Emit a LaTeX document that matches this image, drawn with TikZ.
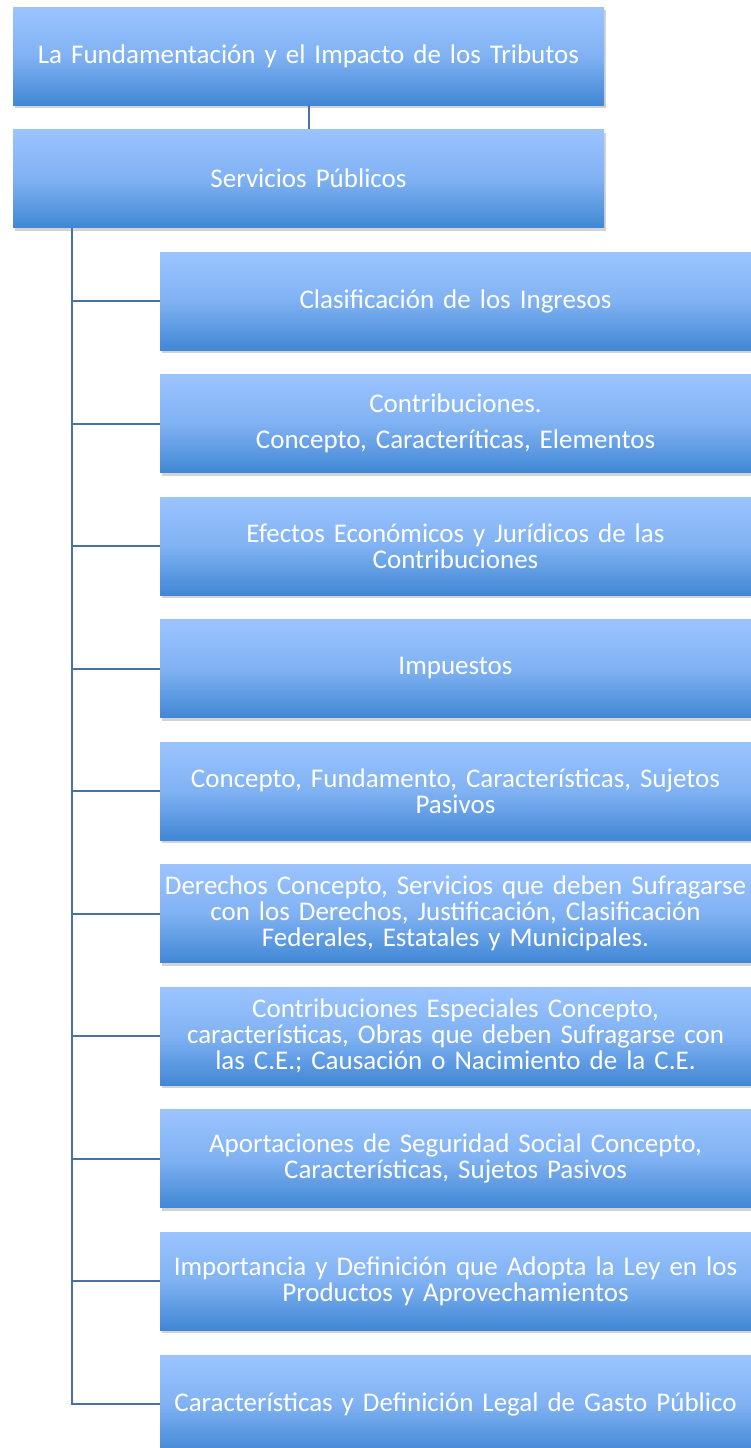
\documentclass[tikz,border=0pt]{standalone}
\usepackage{fontspec}
\setmainfont{Carlito}
\usetikzlibrary{shadows}
\definecolor{boxtop}{HTML}{9BC4FF}
\definecolor{boxbot}{HTML}{4187D5}
\definecolor{linkc}{HTML}{4A70A8}
\tikzset{
  topic/.style={rectangle, minimum width=591pt, minimum height=98pt, inner sep=0pt,
    top color=boxtop, bottom color=boxbot, middle color=boxtop!70!boxbot,
    text=white, font=\fontsize{27}{26}\selectfont, align=center, text width=591pt,
    drop shadow={opacity=0.35, shadow xshift=2pt, shadow yshift=-3pt}},
  link/.style={draw=linkc, line width=2pt}
}
\begin{document}
\begin{tikzpicture}[x=1pt,y=-1pt]
\useasboundingbox (0,0) rectangle (751,1448);
\node[topic] (root) at (308.5,56) {La Fundamentación y el Impacto de los Tributos};
\node[topic] (sp) at (308.5,178.5) {Servicios Públicos};
\draw[link] (root.south) -- (sp.north);
\coordinate (trunk) at (72,228);
\node[topic] (c1) at (455.5,301) {Clasificación de los Ingresos};
\node[topic] (c2) at (455.5,423.5) {Contribuciones.\\[10pt]Concepto, Caracteríticas, Elementos};
\node[topic] (c3) at (455.5,546) {Efectos Económicos y Jurídicos de las\\Contribuciones};
\node[topic] (c4) at (455.5,668.5) {Impuestos};
\node[topic] (c5) at (455.5,791) {Concepto, Fundamento, Características, Sujetos\\Pasivos};
\node[topic] (c6) at (455.5,913.5) {Derechos Concepto, Servicios que deben Sufragarse\\con los Derechos, Justificación, Clasificación\\Federales, Estatales y Municipales.};
\node[topic] (c7) at (455.5,1036) {Contribuciones Especiales Concepto,\\características, Obras que deben Sufragarse con\\las C.E.; Causación o Nacimiento de la C.E.};
\node[topic] (c8) at (455.5,1158.5) {Aportaciones de Seguridad Social Concepto,\\Características, Sujetos Pasivos};
\node[topic] (c9) at (455.5,1281) {Importancia y Definición que Adopta la Ley en los\\Productos y Aprovechamientos};
\node[topic] (c10) at (455.5,1404) {Características y Definición Legal de Gasto Público};
\draw[link] (trunk) |- (c10.west);
\foreach \n in {c1,c2,c3,c4,c5,c6,c7,c8,c9}{
  \draw[link] (trunk |- \n.west) -- (\n.west);
}
\end{tikzpicture}
\end{document}
